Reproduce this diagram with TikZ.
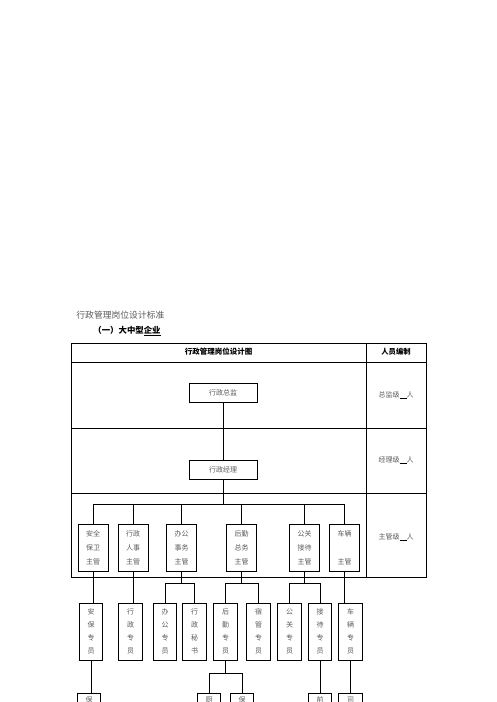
\documentclass[tikz,border=0pt]{standalone}
\usepackage{fontspec}
\setmainfont{Noto Sans CJK SC}
\usetikzlibrary{positioning}
\usepackage{xcolor}
\definecolor{txtgray}{gray}{0.35}

\begin{document}
\begin{tikzpicture}[x=1pt, y=-1pt, line width=0.8pt,
    head/.style={draw, minimum width=68pt, minimum height=19pt, inner sep=0pt,
        text=txtgray, font=\fontsize{7}{8}\selectfont},
    chief/.style={draw, minimum width=30pt, minimum height=47pt, inner sep=0pt,
        align=center, text=txtgray, font=\fontsize{7}{14}\selectfont},
    staff/.style={draw, minimum width=23.5pt, minimum height=57pt, inner sep=0pt,
        align=center, text=txtgray, font=\fontsize{7}{13}\selectfont},
    cutbox/.style={draw, anchor=north, minimum width=23.5pt, inner xsep=0pt, inner ysep=4pt,
        text height=5pt, text depth=25pt, text=txtgray, font=\fontsize{7}{8}\selectfont},
    quota/.style={text=txtgray, font=\fontsize{7}{8}\selectfont}]
    \useasboundingbox (0,0) rectangle (496,702);

    % titles
    \node[anchor=west, text=txtgray, font=\fontsize{8.8}{10}\selectfont, inner sep=0pt] (title) at (76,315) {行政管理岗位设计标准};
    \node[anchor=west, font=\fontsize{8.4}{10}\selectfont\bfseries, inner sep=0pt] (sub) at (93,331) {（一）大中型\underline{企业}};

    % table
    \draw (71,343) rectangle (426,577);
    \draw (71,362) -- (426,362);
    \draw (71,428) -- (426,428);
    \draw (71,493) -- (426,493);
    \draw (366,343) -- (366,577);
    \node[font=\fontsize{7.5}{8}\selectfont\bfseries] (th1) at (218.5,352) {行政管理岗位设计图};
    \node[font=\fontsize{7.3}{8}\selectfont\bfseries] (th2) at (396,352) {人员编制};
    \node[quota] (n1) at (396,395) {总监级\textcolor{black}{\rule[-1pt]{7pt}{0.8pt}}人};
    \node[quota] (n2) at (396,460) {经理级\textcolor{black}{\rule[-1pt]{7pt}{0.8pt}}人};
    \node[quota] (n3) at (396,537) {主管级\textcolor{black}{\rule[-1pt]{7pt}{0.8pt}}人};

    % director and manager
    \node[head] (zj) at (223,392.5) {行政总监};
    \node[head] (jl) at (223,470) {行政经理};

    % supervisors
    \node[chief] (s1) at (93,547.5) {安全\\保卫\\主管};
    \node[chief] (s2) at (133,547.5) {行政\\人事\\主管};
    \node[chief] (s3) at (181.5,547.5) {办公\\事务\\主管};
    \node[chief] (s4) at (241.5,547.5) {后勤\\总务\\主管};
    \node[chief] (s5) at (304.5,547.5) {公关\\接待\\主管};
    \node[chief] (s6) at (344.5,547.5) {车辆\\ \\主管};

    % staff
    \node[staff] (p1) at (91,631.5) {安\\保\\专\\员};
    \node[staff] (p2) at (130.5,631.5) {行\\政\\专\\员};
    \node[staff] (p3) at (165,631.5) {办\\公\\专\\员};
    \node[staff] (p4) at (194.5,631.5) {行\\政\\秘\\书};
    \node[staff] (p5) at (225.5,631.5) {后\\勤\\专\\员};
    \node[staff] (p6) at (258.5,631.5) {宿\\管\\专\\员};
    \node[staff] (p7) at (289.5,631.5) {公\\关\\专\\员};
    \node[staff] (p8) at (320,631.5) {接\\待\\专\\员};
    \node[staff] (p9) at (350.5,631.5) {车\\辆\\专\\员};

    % bottom row, cut by the page edge
    \node[cutbox] (q1) at (89,693) {保};
    \node[cutbox] (q2) at (209,693) {厨};
    \node[cutbox] (q3) at (242,693) {保};
    \node[cutbox] (q4) at (320,693) {前};
    \node[cutbox] (q5) at (350.5,693) {司};

    \coordinate (bus) at (223,504);
    \coordinate (b3) at (181.5,583);
    \coordinate (b4) at (241.5,583);
    \coordinate (b5) at (304.5,583);
    \coordinate (b6) at (225.5,673);

    \draw (zj) -- (jl);
    \draw (jl) -- (bus);
    \foreach \s in {s1,s2,s3,s4,s5,s6}
        \draw (\s.north) |- (bus);

    \draw (s1.south) -- (s1.south |- p1.north);
    \draw (s2.south) -- (s2.south |- p2.north);
    \draw (s6.south) -- (s6.south |- p9.north);
    \draw (s3.south) -- (b3) (p3.north) |- (b3) (p4.north) |- (b3);
    \draw (s4.south) -- (b4) (p5.north) |- (b4) (p6.north) |- (b4);
    \draw (s5.south) -- (b5) (p7.north) |- (b5) (p8.north) |- (b5);

    \draw (p1.south) -- (p1.south |- q1.north);
    \draw (p5.south) -- (b6) (q2.north) |- (b6) (q3.north) |- (b6);
    \draw (p8) -- (q4);
    \draw (p9) -- (q5);
\end{tikzpicture}
\end{document}
